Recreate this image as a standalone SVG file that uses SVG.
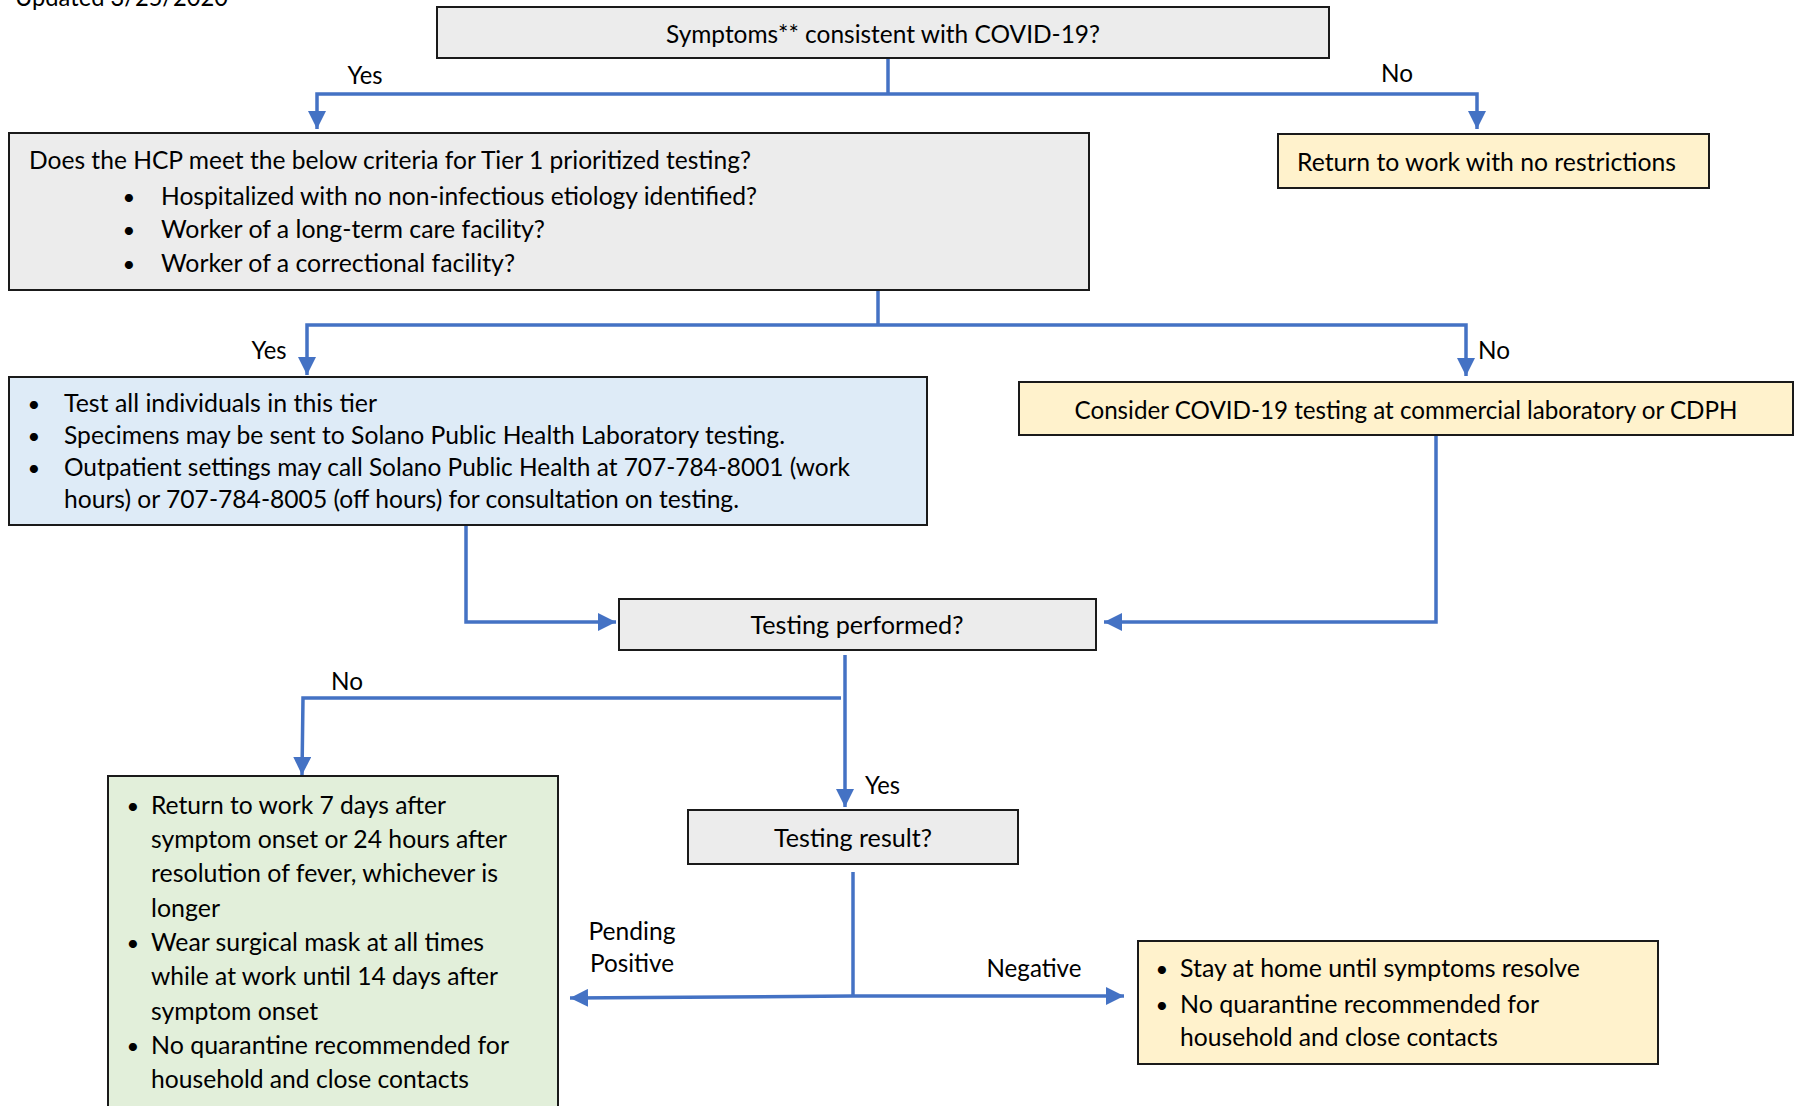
<svg xmlns="http://www.w3.org/2000/svg" width="1795" height="1106" viewBox="0 0 1795 1106">
<style>
text{font-family:Lato,"Open Sans","Liberation Sans",sans-serif;font-size:25px;fill:#000}
.box{stroke:#1a1a1a;stroke-width:2}
.gray{fill:#ececec}.blue{fill:#deebf7}.yellow{fill:#fff2cc}.green{fill:#e2efda}
.c{fill:none;stroke:#4472c4;stroke-width:3.5}
.mid{text-anchor:middle}
.b{font-size:22px}
</style>
<defs>
<marker id="ah" markerUnits="userSpaceOnUse" markerWidth="19" markerHeight="18" refX="18" refY="9" orient="auto">
<path d="M0,0 L18,9 L0,18 z" fill="#4472c4"/>
</marker>
</defs>
<rect width="1795" height="1106" fill="#fff"/>
<text x="15" y="6" textLength="213" lengthAdjust="spacingAndGlyphs">Updated 3/25/2020</text>

<g id="connectors">
<polyline class="c" points="888,58 888,94"/>
<polyline class="c" points="888,94 317,94 317,129" marker-end="url(#ah)"/>
<polyline class="c" points="888,94 1477,94 1477,129" marker-end="url(#ah)"/>
<polyline class="c" points="878,290 878,325"/>
<polyline class="c" points="878,325 307,325 307,375" marker-end="url(#ah)"/>
<polyline class="c" points="878,325 1466,325 1466,376" marker-end="url(#ah)"/>
<polyline class="c" points="466,525 466,622 616,622" marker-end="url(#ah)"/>
<polyline class="c" points="1436,435 1436,622 1104,622" marker-end="url(#ah)"/>
<polyline class="c" points="845,655 845,807" marker-end="url(#ah)"/>
<polyline class="c" points="841,698 303,698 302,775" marker-end="url(#ah)"/>
<polyline class="c" points="853,872 853,996"/>
<polyline class="c" points="853,996 570,998" marker-end="url(#ah)"/>
<polyline class="c" points="853,996 1124,996" marker-end="url(#ah)"/>
<text x="365" y="83.5" class="mid" textLength="35" lengthAdjust="spacingAndGlyphs">Yes</text>
<text x="1397" y="81.5" class="mid" textLength="32" lengthAdjust="spacingAndGlyphs">No</text>
<text x="269" y="358.5" class="mid" textLength="35" lengthAdjust="spacingAndGlyphs">Yes</text>
<text x="1478" y="358.5" textLength="32" lengthAdjust="spacingAndGlyphs">No</text>
<text x="347" y="689.5" class="mid" textLength="32" lengthAdjust="spacingAndGlyphs">No</text>
<text x="865" y="793.5" textLength="35" lengthAdjust="spacingAndGlyphs">Yes</text>
<text x="632" y="939.5" class="mid" textLength="87" lengthAdjust="spacingAndGlyphs">Pending</text>
<text x="632" y="971.5" class="mid" textLength="84" lengthAdjust="spacingAndGlyphs">Positive</text>
<text x="1034" y="976.5" class="mid" textLength="95" lengthAdjust="spacingAndGlyphs">Negative</text>
</g>

<g id="n-symptoms">
<rect class="box gray" x="437" y="7" width="892" height="51"/>
<text x="883" y="42.5" class="mid" textLength="434" lengthAdjust="spacingAndGlyphs">Symptoms** consistent with COVID-19?</text>
</g>

<g id="n-tier1">
<rect class="box gray" x="9" y="133" width="1080" height="157"/>
<text x="29" y="168.5" textLength="722" lengthAdjust="spacingAndGlyphs">Does the HCP meet the below criteria for Tier 1 prioritized testing?</text>
<text x="129" y="204.5" class="mid b">•</text>
<text x="161" y="204.5" textLength="596" lengthAdjust="spacingAndGlyphs">Hospitalized with no non-infectious etiology identified?</text>
<text x="129" y="237.5" class="mid b">•</text>
<text x="161" y="237.5" textLength="384" lengthAdjust="spacingAndGlyphs">Worker of a long-term care facility?</text>
<text x="129" y="271.5" class="mid b">•</text>
<text x="161" y="271.5" textLength="354" lengthAdjust="spacingAndGlyphs">Worker of a correctional facility?</text>
</g>

<g id="n-return">
<rect class="box yellow" x="1278" y="134" width="431" height="54"/>
<text x="1297" y="170.5" textLength="379" lengthAdjust="spacingAndGlyphs">Return to work with no restrictions</text>
</g>

<g id="n-test-all">
<rect class="box blue" x="9" y="377" width="918" height="148"/>
<text x="34" y="411.5" class="mid b">•</text>
<text x="64" y="411.5" textLength="313" lengthAdjust="spacingAndGlyphs">Test all individuals in this tier</text>
<text x="34" y="443.5" class="mid b">•</text>
<text x="64" y="443.5" textLength="721" lengthAdjust="spacingAndGlyphs">Specimens may be sent to Solano Public Health Laboratory testing.</text>
<text x="34" y="475.5" class="mid b">•</text>
<text x="64" y="475.5" textLength="786" lengthAdjust="spacingAndGlyphs">Outpatient settings may call Solano Public Health at 707-784-8001 (work</text>
<text x="64" y="507.5" textLength="675" lengthAdjust="spacingAndGlyphs">hours) or 707-784-8005 (off hours) for consultation on testing.</text>
</g>

<g id="n-consider">
<rect class="box yellow" x="1019" y="382" width="774" height="53"/>
<text x="1406" y="418.5" class="mid" textLength="663" lengthAdjust="spacingAndGlyphs">Consider COVID-19 testing at commercial laboratory or CDPH</text>
</g>

<g id="n-performed">
<rect class="box gray" x="619" y="599" width="477" height="51"/>
<text x="857" y="633.5" class="mid" textLength="213" lengthAdjust="spacingAndGlyphs">Testing performed?</text>
</g>

<g id="n-result">
<rect class="box gray" x="688" y="810" width="330" height="54"/>
<text x="853" y="846.5" class="mid" textLength="158" lengthAdjust="spacingAndGlyphs">Testing result?</text>
</g>

<g id="n-rtw7">
<rect class="box green" x="108" y="776" width="450" height="340"/>
<text x="133" y="813.5" class="mid b">•</text>
<text x="151" y="813.5" textLength="295" lengthAdjust="spacingAndGlyphs">Return to work 7 days after</text>
<text x="151" y="847.5" textLength="356" lengthAdjust="spacingAndGlyphs">symptom onset or 24 hours after</text>
<text x="151" y="881.5" textLength="347" lengthAdjust="spacingAndGlyphs">resolution of fever, whichever is</text>
<text x="151" y="916.5" textLength="69" lengthAdjust="spacingAndGlyphs">longer</text>
<text x="133" y="950.5" class="mid b">•</text>
<text x="151" y="950.5" textLength="333" lengthAdjust="spacingAndGlyphs">Wear surgical mask at all times</text>
<text x="151" y="984.5" textLength="347" lengthAdjust="spacingAndGlyphs">while at work until 14 days after</text>
<text x="151" y="1019.5" textLength="167" lengthAdjust="spacingAndGlyphs">symptom onset</text>
<text x="133" y="1053.5" class="mid b">•</text>
<text x="151" y="1053.5" textLength="358" lengthAdjust="spacingAndGlyphs">No quarantine recommended for</text>
<text x="151" y="1087.5" textLength="318" lengthAdjust="spacingAndGlyphs">household and close contacts</text>
</g>

<g id="n-stay-home">
<rect class="box yellow" x="1138" y="941" width="520" height="123"/>
<text x="1162" y="976.5" class="mid b">•</text>
<text x="1180" y="976.5" textLength="400" lengthAdjust="spacingAndGlyphs">Stay at home until symptoms resolve</text>
<text x="1162" y="1012.5" class="mid b">•</text>
<text x="1180" y="1012.5" textLength="359" lengthAdjust="spacingAndGlyphs">No quarantine recommended for</text>
<text x="1180" y="1045.5" textLength="318" lengthAdjust="spacingAndGlyphs">household and close contacts</text>
</g>
</svg>
